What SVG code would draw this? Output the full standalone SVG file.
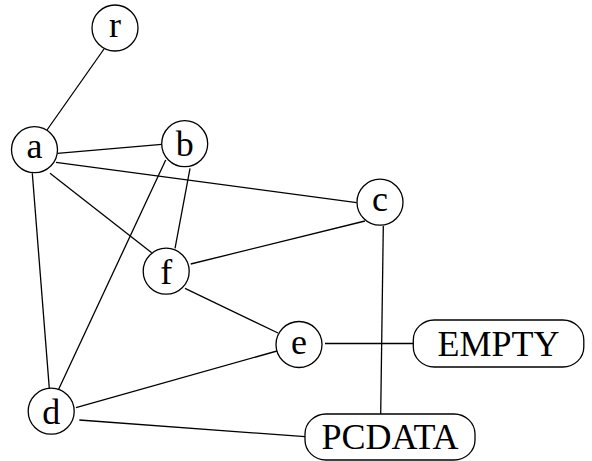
<svg xmlns="http://www.w3.org/2000/svg" width="592" height="461" viewBox="0 0 592 461">
<style>
.n circle, .n rect { fill: #fff; stroke: #000; stroke-width: 1.3; }
.n text { font-family: "Liberation Serif", "Times New Roman", serif; font-size: 36px; text-anchor: middle; fill: #000; }
.edges line { stroke: #000; stroke-width: 1.3; }
</style>
<rect width="592" height="461" fill="#fff"/>
<g class="edges" id="edges">
<line x1="104" y1="49" x2="47" y2="130"/>
<line x1="57.3" y1="153.3" x2="161.7" y2="144.3"/>
<line x1="56" y1="162.3" x2="356.7" y2="202.7"/>
<line x1="50" y1="173.3" x2="151.7" y2="252.7"/>
<line x1="32.3" y1="173.3" x2="49.3" y2="388.3"/>
<line x1="165.7" y1="160" x2="58.3" y2="390"/>
<line x1="190" y1="168.3" x2="175" y2="248.3"/>
<line x1="190.7" y1="264" x2="365" y2="221"/>
<line x1="185" y1="288.3" x2="278" y2="333"/>
<line x1="76" y1="407.7" x2="277" y2="351"/>
<line x1="79.3" y1="420" x2="305" y2="436.7"/>
<line x1="383.3" y1="226" x2="380.7" y2="414"/>
<line x1="325" y1="343.5" x2="413" y2="343.5"/>
</g>
<g class="n" id="node-r"><circle cx="115" cy="28" r="23"/><text x="115" y="37">r</text></g>
<g class="n" id="node-a"><circle cx="34.5" cy="149.7" r="23"/><text x="34.5" y="157.5">a</text></g>
<g class="n" id="node-b"><circle cx="184.7" cy="143.7" r="23"/><text x="184.7" y="155.5">b</text></g>
<g class="n" id="node-c"><circle cx="380" cy="202.2" r="23"/><text x="380" y="211">c</text></g>
<g class="n" id="node-f"><circle cx="166.2" cy="271.2" r="23"/><text x="166.2" y="283.5">f</text></g>
<g class="n" id="node-e"><circle cx="299" cy="344.5" r="23"/><text x="299" y="354">e</text></g>
<g class="n" id="node-d"><circle cx="51.2" cy="411.2" r="23"/><text x="51.2" y="423.5">d</text></g>
<g class="n" id="node-EMPTY"><rect x="413.3" y="320" width="170.5" height="47" rx="21" ry="20"/><text x="498.5" y="356">EMPTY</text></g>
<g class="n" id="node-PCDATA"><rect x="305" y="414" width="170" height="46" rx="21" ry="20"/><text x="390" y="449">PCDATA</text></g>
</svg>
